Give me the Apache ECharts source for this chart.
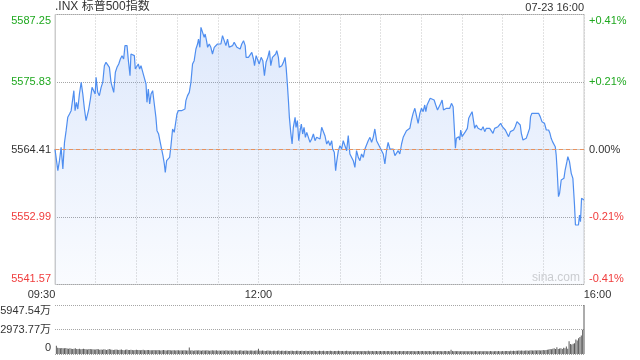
<!DOCTYPE html>
<html><head><meta charset="utf-8">
<script src="https://cdn.jsdelivr.net/npm/echarts@6/dist/echarts.min.js"></script>
<style>html,body{margin:0;padding:0;background:#fff}#c{width:640px;height:360px}</style>
</head><body><div id="c"></div>
<script>
const titleText = '.INX 标普500指数';
const dateText = '07-23 16:00';
const watermarkText = 'sina.com';
const baseValue = 5564.41;
const priceTicks = [5541.57, 5552.99, 5564.41, 5575.83, 5587.25];
const priceTickLabels = ['5541.57', '5552.99', '5564.41', '5575.83', '5587.25'];
const pctTickLabels = ['-0.41%', '-0.21%', '0.00%', '+0.21%', '+0.41%'];
const pctStep = 0.205233; // percent per tick step (11.42 / 5564.41)
const timeTicks = [0, 150, 390];
const timeTickLabels = ['09:30', '12:00', '16:00'];
const volumeMax = 5947.54;
const volumeTickLabels = ['0', '2973.77万', '5947.54万'];

// minutes after 09:30
const priceMinutes = [
0,0.9,2.1,3.3,4.5,5.8,7.0,8.2,9.4,10.7,11.9,13.1,13.9,14.8,15.8,16.8,18.0,19.3,20.5,21.7,22.9,23.7,24.9,26.1,27.3,28.6,29.6,30.3,31.5,32.7,34.0,35.2,36.4,37.6,38.9,40.1,41.3,42.6,43.3,44.5,45.7,47.0,48.2,49.4,50.6,51.6,53.1,54.1,55.3,56.0,57.3,58.5,59.2,60.5,61.4,62.4,63.4,64.6,65.4,66.3,67.1,67.8,68.8,69.8,70.8,72.0,73.2,74.4,75.2,76.4,77.6,78.6,79.6,80.6,81.3,82.3,83.5,84.5,85.5,86.7,87.9,89.2,89.9,90.9,92.1,93.3,94.6,95.8,96.5,97.7,99.0,100.2,101.4,102.6,103.9,105.1,105.8,106.8,107.6,108.8,110.0,110.7,111.7,112.5,113.7,114.9,116.1,117.4,118.6,119.8,121.0,122.3,123.5,124.7,126.0,127.2,128.4,129.6,130.9,132.1,
132.8,134.1,135.3,136.5,137.7,139.0,140.2,140.9,142.6,143.9,145.1,146.3,147.1,148.3,149.3,150.5,152.0,153.2,154.4,155.6,156.9,158.1,159.1,160.3,161.5,162.7,163.5,164.7,165.4,167.2,168.4,169.6,170.4,171.3,172.1,172.8,173.8,174.8,175.7,177.0,177.7,178.7,179.7,180.7,181.6,182.6,183.6,184.6,185.6,186.8,188.0,189.2,190.5,191.7,192.9,194.1,195.4,196.6,197.8,199.0,200.3,201.5,202.7,204.0,204.7,205.9,206.9,207.6,208.9,210.1,211.3,212.5,213.8,215.0,216.2,217.4,218.7,219.9,221.1,222.3,223.6,224.8,226.0,227.3,228.5,229.7,230.9,232.2,233.4,234.6,235.8,237.1,238.3,239.5,240.7,242.0,243.2,244.4,245.6,246.9,248.1,249.3,250.6,251.8,253.0,254.2,255.5,256.7,257.9,259.1,260.4,
261.6,262.8,264.0,265.3,266.5,267.7,269.0,270.2,271.4,272.6,273.4,274.3,275.6,276.6,278.0,279.5,280.7,282.0,283.2,284.4,285.4,286.4,287.3,288.6,289.8,291.0,292.3,293.5,294.2,295.2,295.9,296.7,297.7,298.4,299.1,300.1,301.3,302.6,304.0,305.0,306.2,307.5,308.4,309.4,310.6,311.9,313.1,314.3,315.6,316.8,318.0,319.2,320.5,321.7,322.9,324.1,325.4,326.6,327.8,328.6,329.8,331.0,332.0,333.2,334.4,335.7,336.9,338.1,339.3,340.6,341.8,343.0,343.8,345.0,346.2,347.4,348.7,349.9,350.6,351.6,352.8,354.1,355.3,356.5,357.7,359.0,360.2,360.9,362.2,362.9,363.9,364.9,365.8,366.8,367.8,368.8,369.5,370.2,371.2,372.0,373.2,374.4,375.2,376.1,377.4,378.1,379.3,380.6,381.8,383.0,383.7,385.0,385.9,386.7,387.4,388.2,389.1,390.0
];
const prices = [
5564.45,5564.21,5560.83,5562.52,5564.78,5561.11,5565.62,5567.60,5569.85,5570.42,5570.98,5571.26,5574.36,5570.98,5572.39,5571.26,5573.80,5575.77,5573.80,5571.26,5569.29,5569.00,5571.26,5572.95,5574.93,5575.21,5573.80,5576.62,5574.08,5573.52,5574.93,5575.77,5578.59,5579.16,5579.44,5578.31,5575.77,5575.77,5574.08,5577.47,5578.31,5578.88,5579.72,5580.29,5579.72,5581.98,5581.98,5579.44,5576.90,5580.57,5580.57,5580.29,5578.03,5578.31,5578.88,5578.03,5578.59,5578.59,5576.90,5576.62,5575.49,5572.39,5574.65,5572.11,5573.80,5574.36,5572.11,5569.85,5567.60,5567.03,5565.62,5564.49,5563.37,5561.96,5560.55,5562.52,5562.52,5563.08,5565.06,5567.88,5567.31,5567.31,5570.42,5570.98,5570.70,5570.98,5570.70,5571.26,5572.67,5573.52,5574.08,5575.77,5578.88,5579.44,5581.41,5582.26,5583.10,5581.70,5585.08,5584.23,5583.39,5583.95,5582.82,5581.70,5582.26,5581.70,5580.57,5581.70,5581.98,5582.26,5581.98,5582.26,5583.67,5583.67,5581.98,5583.10,5581.70,5581.98,5581.98,5582.54,
5582.26,5581.70,5581.98,5581.41,5582.26,5582.82,5581.98,5580.00,5580.00,5580.29,5580.85,5579.72,5578.59,5580.29,5580.57,5578.88,5580.00,5579.44,5576.90,5579.16,5580.00,5581.13,5578.59,5580.00,5579.72,5580.57,5581.13,5580.00,5578.31,5578.59,5579.16,5580.00,5578.31,5575.49,5572.67,5569.85,5567.31,5565.34,5568.16,5569.85,5568.16,5569.29,5565.90,5567.60,5568.72,5567.03,5568.16,5566.47,5567.31,5567.31,5565.62,5566.19,5567.03,5565.90,5566.47,5566.19,5566.19,5568.16,5568.16,5566.75,5565.34,5565.90,5565.06,5565.90,5564.49,5563.93,5560.83,5562.24,5564.21,5565.06,5564.49,5565.90,5566.19,5564.21,5566.75,5563.65,5563.37,5562.52,5561.39,5564.21,5563.08,5562.52,5563.65,5563.08,5564.49,5564.21,5565.90,5566.47,5565.62,5566.47,5567.88,5565.90,5565.62,5564.78,5565.06,5563.65,5561.96,5564.21,5565.62,5564.49,5564.21,5564.49,5563.37,5563.08,5564.21,5563.65,5565.34,5566.47,5566.75,5567.60,5567.31,
5567.99,5569.40,5570.53,5571.38,5571.66,5568.84,5570.53,5571.38,5570.81,5571.94,5570.81,5571.94,5572.22,5573.07,5573.07,5572.79,5571.94,5571.09,5571.38,5572.22,5572.79,5571.09,5571.38,5571.38,5571.66,5571.38,5572.22,5571.66,5568.84,5564.61,5566.30,5566.02,5566.58,5566.02,5567.71,5566.58,5566.86,5567.43,5567.99,5569.68,5570.25,5570.81,5571.09,5567.99,5568.56,5567.99,5568.27,5567.71,5568.27,5567.43,5567.99,5567.71,5567.99,5567.71,5567.15,5567.99,5567.71,5568.27,5567.99,5568.84,5568.27,5568.56,5567.71,5567.43,5566.58,5567.43,5567.71,5567.71,5568.27,5569.12,5569.12,5568.56,5567.15,5566.02,5566.02,5566.30,5567.15,5567.99,5569.97,5570.53,5570.25,5570.53,5570.64,5570.53,5569.97,5569.12,5568.84,5568.84,5567.71,5567.43,5567.71,5567.15,5566.30,5565.74,5565.45,5564.89,5563.48,5560.94,5556.43,5557.00,5559.25,5559.53,5559.53,5560.94,5562.35,5563.20,5562.35,5560.38,5559.53,5555.02,5551.64,5551.92,5551.64,5553.33,5552.20,5556.15,5555.87,5555.87
];

// volume per minute (万), minutes 1..390
const volumes = [
990,760,720,700,720,690,700,720,680,650,690,640,610,650,700,620,600,640,590,620,650,600,580,560,600,620,570,590,560,540,
600,570,530,560,520,580,550,500,540,600,560,520,500,530,560,510,480,520,550,500,470,510,540,500,480,520,490,460,500,520,
480,500,460,490,520,470,450,480,500,460,440,470,500,460,440,480,450,430,470,490,440,420,460,480,440,430,450,470,420,440,
450,430,460,420,440,470,430,410,790,420,450,400,430,460,410,440,420,400,450,430,410,440,420,390,430,450,410,420,440,400,
420,400,430,410,390,440,420,400,410,430,390,410,420,400,380,420,440,400,390,410,420,380,400,430,410,390,400,420,410,640,
400,380,410,390,370,400,420,380,390,370,400,380,360,390,410,370,380,400,360,380,390,370,360,380,400,370,360,390,380,360,
370,390,360,350,380,370,360,390,350,370,380,360,340,370,390,350,360,380,340,360,370,350,380,360,340,370,360,350,380,360,
350,370,340,360,380,350,340,370,360,330,350,370,340,360,350,330,370,350,340,360,380,340,350,360,330,350,370,340,360,350,
340,360,350,330,370,350,340,360,330,350,360,340,330,360,350,340,370,350,330,350,360,340,350,370,340,330,360,350,340,360,
350,330,360,340,350,370,340,330,350,360,340,330,360,350,340,330,350,360,340,350,330,520,360,340,350,330,360,340,330,350,
340,330,350,320,340,360,330,340,320,350,340,330,320,350,340,330,360,340,320,330,350,340,330,320,350,340,360,330,340,350,
340,360,350,370,340,380,360,390,370,400,380,410,390,420,400,380,410,430,400,420,440,410,430,450,420,440,460,430,450,480,
460,500,520,560,600,580,640,700,620,830,600,680,700,620,760,700,900,640,1550,1200,1150,1250,1300,1750,1650,1900,2050,2250,2950,5947.54
];

const FONT = '"Liberation Sans", Arial, "Noto Sans CJK SC", sans-serif';
const GREEN = '#1fa81f', RED = '#f03c3c', DARK = '#333';
const GRIDC = '#a6a6a6';

function tickIndex(list, v) {
  let best = 0, d = Infinity;
  list.forEach((t, i) => { const dd = Math.abs(t - v); if (dd < d) { d = dd; best = i; } });
  return best;
}
function colorKey(i) { return i < 2 ? 'r' : (i === 2 ? 'k' : 'g'); }
function posKey(i, n) { return i === 0 ? 'B' : (i === n - 1 ? 'T' : 'M'); }
function richSet() {
  const out = {};
  const cols = { r: RED, g: GREEN, k: DARK };
  const pads = { B: [0, 0, 12, 0], T: [12, 0, 0, 0], M: [0, 0, 0, 0] };
  Object.keys(cols).forEach(c => Object.keys(pads).forEach(p => {
    out[c + p] = { color: cols[c], padding: pads[p], fontSize: 11, fontFamily: FONT };
  }));
  return out;
}

const chart = echarts.init(document.getElementById('c'), null, { renderer: 'canvas' });
const option = {
  animation: false,
  backgroundColor: '#fff',
  textStyle: { fontFamily: FONT },
  title: [
    { text: titleText, left: 55, top: 1, padding: 0, textStyle: { fontSize: 12, fontWeight: 'normal', color: '#333', fontFamily: FONT } },
    { text: dateText, right: 56, top: 2, padding: 0, textStyle: { fontSize: 11, fontWeight: 'normal', color: '#333', fontFamily: FONT } }
  ],
  graphic: [
    { type: 'text', right: 60, top: 272, silent: true, style: { text: watermarkText, fill: '#cfcfcf', font: '12px ' + FONT } }
  ],
  grid: [
    { left: 55, top: 14.5, width: 529, height: 270, show: true, borderColor: '#cccccc', borderWidth: 1, containLabel: false, outerBoundsMode: 'none' },
    { left: 55, top: 305, width: 529, height: 49, show: false, containLabel: false, outerBoundsMode: 'none' }
  ],
  xAxis: [
    {
      gridIndex: 0, type: 'value', min: 0, max: 390, interval: 30,
      axisLine: { show: true, lineStyle: { color: '#cccccc' } },
      axisTick: { show: false },
      splitLine: { show: true, lineStyle: { color: '#c4c4c4', type: [1, 2], width: 1 } },
      axisLabel: {
        customValues: timeTicks, margin: 5, fontSize: 11, color: '#333', fontFamily: FONT,
        formatter: v => {
          const i = tickIndex(timeTicks, v);
          const key = i === 0 ? 'L' : (i === timeTicks.length - 1 ? 'R' : 'C');
          return '{' + key + '|' + timeTickLabels[i] + '}';
        },
        rich: {
          L: { padding: [0, 27, 0, 0], fontSize: 11, color: '#333', fontFamily: FONT },
          R: { padding: [0, 0, 0, 27], fontSize: 11, color: '#333', fontFamily: FONT },
          C: { fontSize: 11, color: '#333', fontFamily: FONT }
        }
      }
    },
    {
      gridIndex: 1, type: 'value', min: 0, max: 390, interval: 30,
      axisLine: { show: false }, axisTick: { show: false }, axisLabel: { show: false }, splitLine: { show: false }
    }
  ],
  yAxis: [
    {
      gridIndex: 0, type: 'value', min: priceTicks[0], max: priceTicks[priceTicks.length - 1], position: 'left',
      axisLine: { show: true, lineStyle: { color: '#cccccc' } },
      axisTick: { show: false },
      splitLine: { show: false },
      axisLabel: {
        customValues: priceTicks, margin: 4, fontSize: 11, fontFamily: FONT,
        formatter: v => {
          const i = tickIndex(priceTicks, v);
          return '{' + colorKey(i) + posKey(i, priceTicks.length) + '|' + priceTickLabels[i] + '}';
        },
        rich: richSet()
      }
    },
    {
      // percent-change axis (same range as the price axis)
      gridIndex: 0, type: 'value', min: -2 * pctStep, max: 2 * pctStep, interval: pctStep, position: 'right',
      axisLine: { show: false },
      axisTick: { show: false },
      splitLine: { show: true, lineStyle: { color: GRIDC, type: [1, 1], width: 1 } },
      axisLabel: {
        margin: 5, fontSize: 11, fontFamily: FONT, showMinLabel: true, showMaxLabel: true,
        formatter: v => {
          const i = Math.max(0, Math.min(4, Math.round(v / pctStep) + 2));
          return '{' + colorKey(i) + posKey(i, pctTickLabels.length) + '|' + pctTickLabels[i] + '}';
        },
        rich: richSet()
      }
    },
    {
      gridIndex: 1, type: 'value', min: 0, max: volumeMax, interval: volumeMax / 2, position: 'left',
      axisLine: { show: false },
      axisTick: { show: false },
      splitLine: { show: true, lineStyle: { color: GRIDC, type: [1, 1], width: 1 } },
      axisLabel: {
        margin: 4, fontSize: 11, fontFamily: FONT, showMinLabel: true, showMaxLabel: true,
        formatter: v => {
          const i = Math.max(0, Math.min(2, Math.round(v / (volumeMax / 2))));
          return '{k' + posKey(i, volumeTickLabels.length) + '|' + volumeTickLabels[i] + '}';
        },
        rich: richSet()
      }
    }
  ],
  series: [
    {
      type: 'line', xAxisIndex: 0, yAxisIndex: 0,
      data: priceMinutes.map((m, i) => [m, prices[i]]),
      showSymbol: false, symbol: 'none',
      lineStyle: { color: '#4f8ef0', width: 1.2 },
      areaStyle: {
        color: new echarts.graphic.LinearGradient(0, 0, 0, 1, [
          { offset: 0, color: 'rgba(100,150,240,0.3)' },
          { offset: 1, color: 'rgba(100,150,240,0.05)' }
        ])
      },
      markLine: {
        silent: true, symbol: ['none', 'none'], label: { show: false },
        emphasis: { disabled: true },
        lineStyle: { color: '#e8925f', type: [4, 3], width: 1 },
        data: [{ yAxis: baseValue }]
      }
    },
    {
      type: 'bar', xAxisIndex: 1, yAxisIndex: 2,
      data: volumes.map((v, i) => [i + 1, v]),
      barWidth: 1,
      itemStyle: { color: '#5a5a5a' }
    }
  ]
};
chart.setOption(option);
</script>
</body></html>
